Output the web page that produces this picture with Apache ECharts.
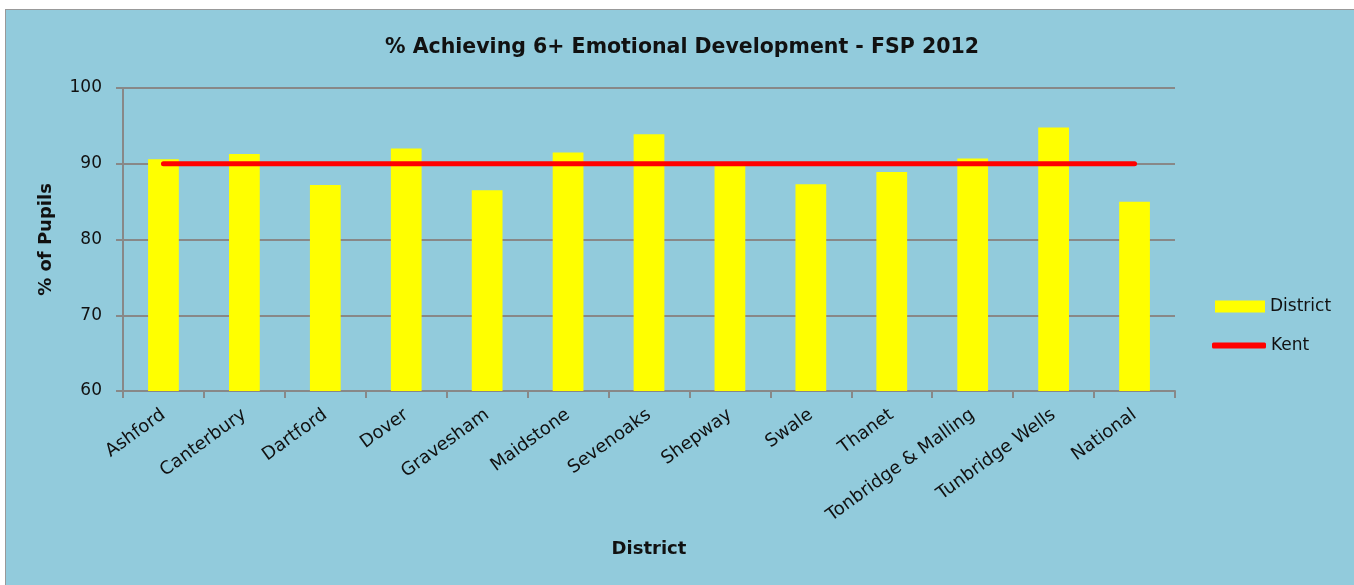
<!DOCTYPE html>
<html>
<head>
<meta charset="utf-8">
<script src="https://cdn.jsdelivr.net/npm/echarts@6/dist/echarts.min.js"></script>
<style>
  html, body { margin: 0; padding: 0; background: #fff; overflow: hidden; }
  #main { position: absolute; left: 5px; top: 9px; width: 1360px; height: 590px;
          background: #92cbdc; border: 1px solid #999; box-sizing: border-box; }
</style>
</head>
<body>
<div id="main"></div>
<script>
// chart data
const districts = ['Ashford', 'Canterbury', 'Dartford', 'Dover', 'Gravesham', 'Maidstone', 'Sevenoaks',
  'Shepway', 'Swale', 'Thanet', 'Tonbridge & Malling', 'Tunbridge Wells', 'National'];
const districtValues = [90.6, 91.3, 87.2, 92.0, 86.5, 91.5, 93.9, 89.9, 87.3, 88.9, 90.7, 94.8, 85.0];
const kentValues = [90, 90, 90, 90, 90, 90, 90, 90, 90, 90, 90, 90, 90];

const font = 'Tahoma, "DejaVu Sans", sans-serif';
const myChart = echarts.init(document.getElementById('main'));
myChart.setOption({
  animation: false,
  title: {
    text: '% Achieving 6+ Emotional Development - FSP 2012',
    left: 671, top: 22, textAlign: 'center',
    textStyle: { fontFamily: font, fontSize: 20.5, fontWeight: 'bold', color: '#111' }
  },
  grid: { left: 117, right: 189, top: 78, bottom: 207 },
  legend: [
    {
      orient: 'vertical', left: 1204, top: 283, itemGap: 6,
      itemWidth: 50, itemHeight: 12, icon: 'rect',
      textStyle: { fontFamily: font, fontSize: 17, color: '#111' },
      data: ['District']
    },
    {
      orient: 'vertical', left: 1201, top: 322,
      itemWidth: 54, itemHeight: 6, icon: 'roundRect',
      textStyle: { fontFamily: font, fontSize: 17, color: '#111' },
      data: ['Kent']
    }
  ],
  xAxis: {
    type: 'category',
    data: districts,
    name: 'District', nameLocation: 'middle', nameGap: 149,
    nameTextStyle: { fontFamily: font, fontSize: 18, fontWeight: 'bold', color: '#111' },
    axisLine: { lineStyle: { color: '#888', width: 2 } },
    axisTick: { show: true, length: 7, lineStyle: { color: '#888', width: 2 } },
    axisLabel: { rotate: 36, fontFamily: font, fontSize: 18, color: '#111', margin: 22 }
  },
  yAxis: {
    type: 'value', min: 60, max: 100, interval: 10,
    name: '% of Pupils', nameLocation: 'middle', nameGap: 68, nameRotate: 90,
    nameTextStyle: { fontFamily: font, fontSize: 18, fontWeight: 'bold', color: '#111' },
    axisLine: { show: true, lineStyle: { color: '#888', width: 2 } },
    axisTick: { show: true, length: 7, lineStyle: { color: '#888', width: 2 } },
    axisLabel: { fontFamily: font, fontSize: 17, color: '#111', margin: 21 },
    splitLine: { lineStyle: { color: '#888', width: 2 } }
  },
  series: [
    {
      name: 'District', type: 'bar', data: districtValues,
      barWidth: '38%',
      itemStyle: { color: '#ffff00' }
    },
    {
      name: 'Kent', type: 'line', data: kentValues,
      symbol: 'none', z: 3,
      lineStyle: { color: '#ff0000', width: 5, cap: 'round' },
      itemStyle: { color: '#ff0000' }
    }
  ]
});
</script>
</body>
</html>
